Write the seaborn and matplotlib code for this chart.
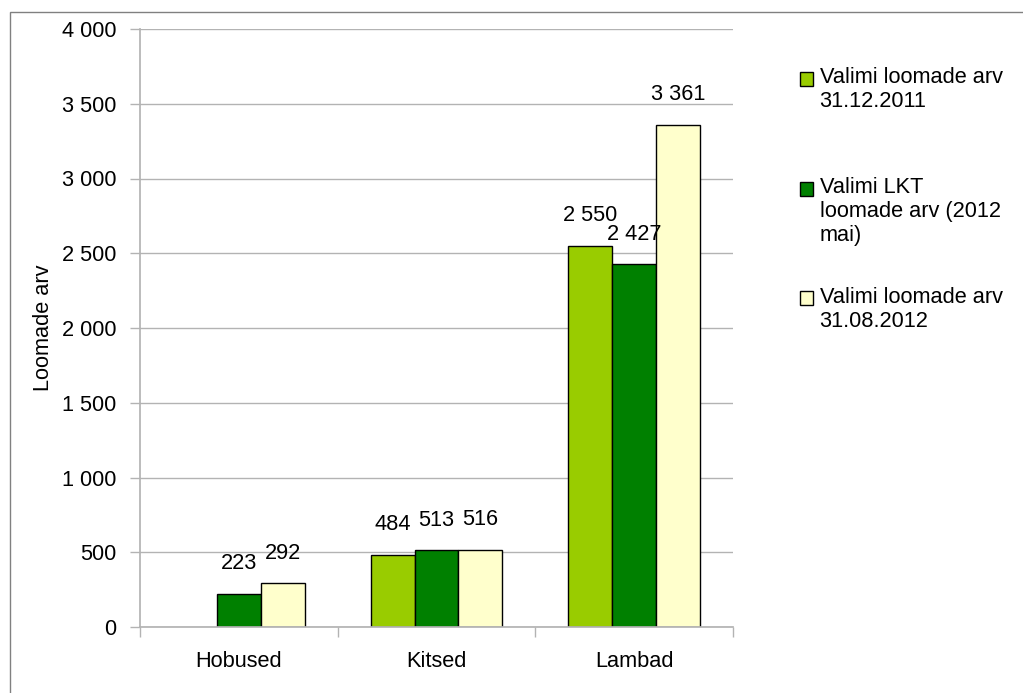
import pandas as pd
import matplotlib.pyplot as plt
import matplotlib.patches as mpatches
from matplotlib.legend_handler import HandlerPatch
import seaborn as sns

categories = ['Hobused', 'Kitsed', 'Lambad']
series = ['Valimi loomade arv\n31.12.2011',
          'Valimi LKT\nloomade arv (2012\nmai)',
          'Valimi loomade arv\n31.08.2012']
dec_2011 = [None, 484, 2550]
lkt_2012 = [223, 513, 2427]
aug_2012 = [292, 516, 3361]
colors = ['#99cc00', '#008000', '#ffffcc']

# long-form table, drop the missing horse value
rows = []
for name, vals in zip(series, [dec_2011, lkt_2012, aug_2012]):
    for cat, v in zip(categories, vals):
        if v is not None:
            rows.append({'cat': cat, 'series': name, 'value': v})
df = pd.DataFrame(rows)

sns.set_theme(style='white')
plt.rcParams['font.family'] = ['Liberation Sans', 'DejaVu Sans']
plt.rcParams['font.size'] = 15.7
plt.rcParams['text.color'] = 'black'
plt.rcParams['axes.labelcolor'] = 'black'

FS = 15.7
GRID = '#b3b3b3'

fig = plt.figure(figsize=(10.23, 6.93), dpi=100)
ax = fig.add_axes([140 / 1023, 1 - 627 / 693, 593 / 1023, 598 / 693])

sns.barplot(data=df, x='cat', y='value', hue='series', order=categories,
            hue_order=series, palette=colors, width=0.665, ax=ax,
            edgecolor='black', linewidth=1, saturation=1, legend=False)

fmt = lambda v: f'{v:,.0f}'.replace(',', ' ')
for cont in ax.containers:
    ax.bar_label(cont, labels=[fmt(b.get_height()) for b in cont],
                 padding=14, fontsize=FS, color='black')

ax.set_ylim(0, 4000)
ax.set_yticks(range(0, 4001, 500))
ax.set_yticklabels([fmt(t) for t in range(0, 4001, 500)], fontsize=FS)
ax.set_xlim(-0.5, 2.5)
ax.set_xticks([-0.5, 0.5, 1.5, 2.5])
ax.set_xticklabels([])
ax.set_xticks([0, 1, 2], minor=True)
ax.set_xticklabels(categories, minor=True, fontsize=FS)
ax.tick_params(axis='x', which='major', length=7, color=GRID, width=1,
               direction='out', bottom=True)
ax.tick_params(axis='x', which='minor', length=0, pad=17, labelcolor='black')
ax.tick_params(axis='y', length=7, color=GRID, width=1, left=True, pad=10,
               labelcolor='black')
ax.yaxis.grid(True, color=GRID, linewidth=1)
ax.set_axisbelow(True)
for s in ['top', 'right']:
    ax.spines[s].set_visible(False)
for s in ['left', 'bottom']:
    ax.spines[s].set_color(GRID)
ax.set_xlabel('')
ax.set_ylabel('Loomade arv', fontsize=FS)
ax.yaxis.set_label_coords(-0.145, 0.5)


# legend markers sit on the first line of each (multi-line) label
class TopPatch(HandlerPatch):
    def __init__(self, nlines, **kw):
        super().__init__(**kw)
        self.nlines = nlines

    def create_artists(self, legend, orig_handle, xdescent, ydescent,
                       width, height, fontsize, trans):
        shift = (self.nlines - 1) / 2 * fontsize * 1.06
        p = mpatches.Rectangle((-xdescent, -ydescent + shift), width, height,
                               facecolor=orig_handle.get_facecolor(),
                               edgecolor='black', linewidth=1, transform=trans)
        return [p]


leg_labels = [series[0] + '\n', series[1], series[2]]
handles = [mpatches.Patch(facecolor=c, edgecolor='black', linewidth=1)
           for c in colors]
hmap = {h: TopPatch(lab.count('\n') + 1) for h, lab in zip(handles, leg_labels)}
fig.legend(handles, leg_labels, handler_map=hmap, loc='upper left',
           bbox_to_anchor=(0.782, 0.903), frameon=False, fontsize=FS,
           handlelength=0.6, handleheight=0.6, handletextpad=0.3,
           labelspacing=1.85, borderaxespad=0, borderpad=0)

# outer chart border
fig.add_artist(mpatches.Rectangle((10 / 1023, -0.05), 1.1, 0.05 + 1 - 12 / 693,
                                  transform=fig.transFigure, fill=False,
                                  edgecolor='#808080', linewidth=1))

fig.savefig('out.png', dpi=100)
